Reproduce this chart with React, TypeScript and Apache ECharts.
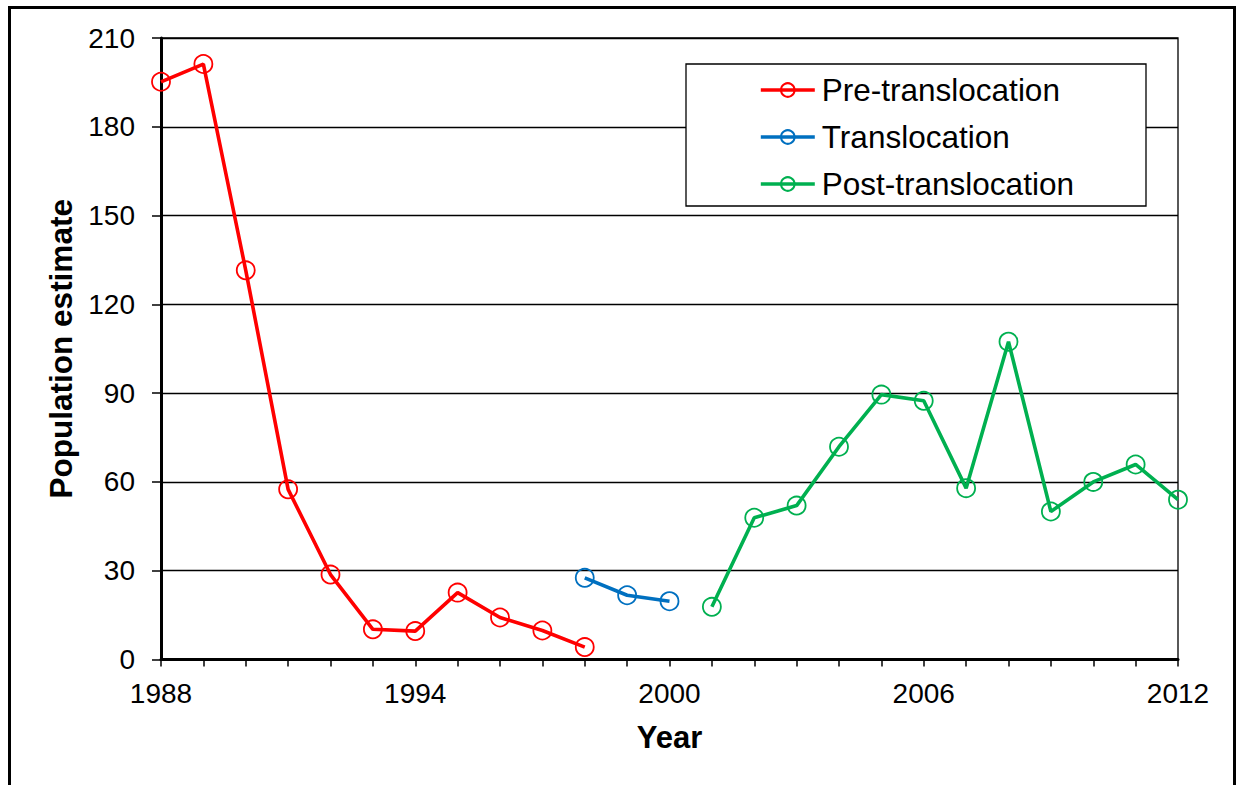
import React, { useEffect, useRef } from "react";
import * as echarts from "echarts";

const preYears = [1988, 1989, 1990, 1991, 1992, 1993, 1994, 1995, 1996, 1997, 1998];
const preValues = [195.2, 201.2, 131.5, 57.5, 28.7, 10.2, 9.6, 22.6, 14.2, 9.8, 4.2];
const transYears = [1998, 1999, 2000];
const transValues = [27.6, 21.7, 19.7];
const postYears = [2001, 2002, 2003, 2004, 2005, 2006, 2007, 2008, 2009, 2010, 2011, 2012];
const postValues = [17.8, 47.9, 52, 71.9, 89.5, 87.4, 57.9, 107.4, 50, 60, 65.9, 54];
const seriesNames = ["Pre-translocation", "Translocation", "Post-translocation"];
const seriesColors = ["#FF0000", "#0070C0", "#00B050"];
const xLabelYears = [1988, 1994, 2000, 2006, 2012];

const FONT = "'Liberation Sans', Arial, sans-serif";

export default function App() {
  const ref = useRef<HTMLDivElement>(null);
  useEffect(() => {
    if (!ref.current) return;
    const chart = echarts.init(ref.current, undefined, { renderer: "svg" });
    const groups = [
      [preYears, preValues],
      [transYears, transValues],
      [postYears, postValues],
    ];
    const series = groups.map(([xs, ys], i) => ({
      name: seriesNames[i],
      type: "line",
      data: (xs as number[]).map((x, j) => [x, (ys as number[])[j]]),
      symbol: "circle",
      symbolSize: 18,
      showAllSymbol: true,
      lineStyle: { color: seriesColors[i], width: 3.6 },
      itemStyle: { color: "rgba(255,255,255,0)", borderColor: seriesColors[i], borderWidth: 1.8 },
      emphasis: { disabled: true },
      z: 3,
    }));
    chart.setOption({
      animation: false,
      backgroundColor: "#fff",
      textStyle: { fontFamily: FONT },
      grid: {
        left: 161,
        top: 38,
        right: 61,
        bottom: 125.5,
        show: true,
        borderColor: "#000",
        borderWidth: 1.3,
        backgroundColor: "transparent",
      },
      xAxis: {
        type: "value",
        min: 1988,
        max: 2012,
        interval: 1,
        name: "Year",
        nameLocation: "middle",
        nameGap: 62,
        nameTextStyle: { fontSize: 31, fontWeight: "bold", color: "#000", fontFamily: FONT },
        axisLine: { show: true, lineStyle: { color: "#000", width: 3 } },
        axisTick: { show: true, length: 7, lineStyle: { color: "#000", width: 1.5 } },
        axisLabel: {
          fontSize: 28,
          color: "#000",
          fontFamily: FONT,
          margin: 20,
          showMinLabel: true,
          showMaxLabel: true,
          formatter: (v: number) => (xLabelYears.indexOf(v) >= 0 ? String(v) : ""),
        },
        splitLine: { show: false },
      },
      yAxis: {
        type: "value",
        min: 0,
        max: 210,
        interval: 30,
        name: "Population estimate",
        nameLocation: "middle",
        nameGap: 82,
        nameTextStyle: { fontSize: 31.5, fontWeight: "bold", color: "#000", fontFamily: FONT },
        axisLine: { show: true, lineStyle: { color: "#000", width: 3 } },
        axisTick: { show: true, length: 9, lineStyle: { color: "#000", width: 1.5 } },
        axisLabel: { fontSize: 28, color: "#000", fontFamily: FONT, margin: 26 },
        splitLine: { show: true, lineStyle: { color: "#000", width: 1.3 } },
      },
      legend: {
        orient: "vertical",
        left: 759,
        top: 74,
        padding: 0,
        itemGap: 15,
        itemWidth: 54,
        itemHeight: 17,
        selectedMode: false,
        lineStyle: { width: 3.6 },
        textStyle: { fontSize: 31.5, lineHeight: 32, color: "#000", fontFamily: FONT, padding: [0, 0, 0, 2] },
        data: seriesNames,
        z: 10,
      },
      graphic: [
        {
          type: "rect",
          z: 8,
          shape: { x: 686, y: 64, width: 460, height: 142 },
          style: { fill: "#fff", stroke: "#000", lineWidth: 1.3 },
        },
        {
          type: "rect",
          z: 8,
          shape: { x: 9.5, y: 7.5, width: 1225, height: 900 },
          style: { fill: "none", stroke: "#000", lineWidth: 3 },
        },
      ],
      series,
    });
    return () => chart.dispose();
  }, []);
  return (
    <div
      ref={ref}
      style={{ position: "absolute", left: 0, top: 0, width: 1239, height: 785 }}
    />
  );
}
